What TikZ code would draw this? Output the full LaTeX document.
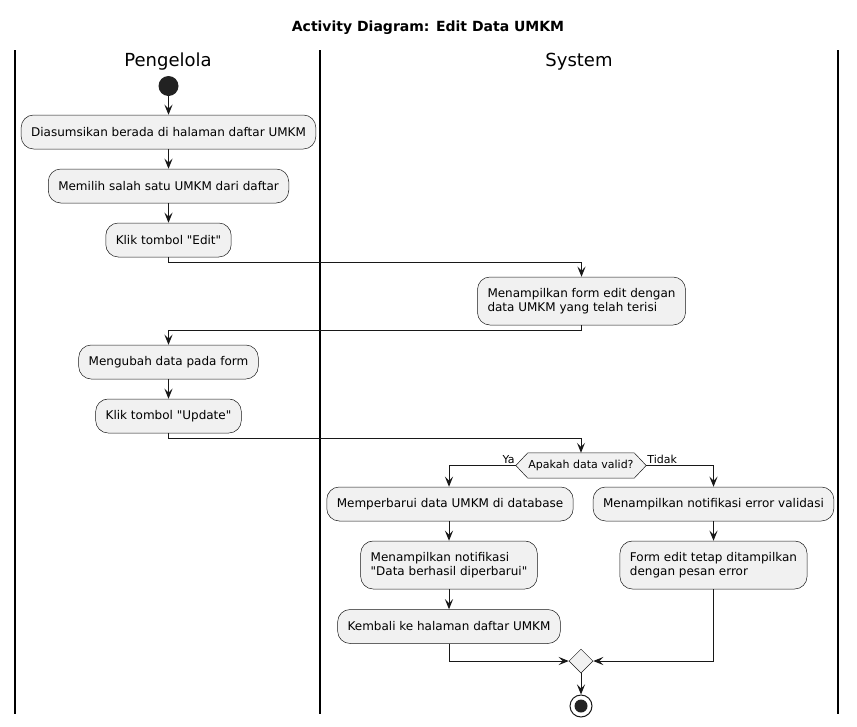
\documentclass[tikz,border=0pt]{standalone}
\usepackage{fontspec}
\setmainfont{DejaVu Sans}[Ligatures=TeXOff]
\usetikzlibrary{arrows.meta,shapes.geometric,calc}
\definecolor{cline}{HTML}{181818}
\definecolor{cfill}{HTML}{F1F1F1}
\definecolor{cstart}{HTML}{222222}
\begin{document}
\begin{tikzpicture}[x=1pt,y=-1pt,
  actbox/.style={rectangle, rounded corners=12.5pt, draw=cline, line width=0.5pt, fill=cfill,
    inner xsep=10pt, inner ysep=0pt, minimum height=34pt, align=left,
    font=\fontsize{12}{14}\selectfont},
  actbox2/.style={actbox, minimum height=48pt},
  arr/.style={draw=cline, line width=1pt, -{Stealth[length=10pt,width=8pt,inset=4pt]}},
  lane/.style={draw=black, line width=1.5pt},
  lanehead/.style={font=\fontsize{18}{20}\selectfont},
  lbl/.style={font=\fontsize{11}{13}\selectfont, inner sep=1pt}
]
\useasboundingbox (0,0) rectangle (857,726);
\fill[white] (0,0) rectangle (857,726);

% title
\node[font=\bfseries\fontsize{14}{16}\selectfont] (title) at (428,28) {Activity Diagram: Edit Data UMKM};

% swimlanes
\coordinate (l1t) at (15,50); \coordinate (l1b) at (15,714);
\coordinate (l2t) at (320,50); \coordinate (l2b) at (320,714);
\coordinate (l3t) at (838,50); \coordinate (l3b) at (838,714);
\draw[lane] (l1t) -- (l1b);
\draw[lane] (l2t) -- (l2b);
\draw[lane] (l3t) -- (l3b);
\node[lanehead] (h1) at (168,62) {Pengelola};
\node[lanehead] (h2) at (579,62) {System};

% nodes
\node[circle, fill=cstart, minimum size=20pt, inner sep=0pt] (s) at (168.5,86) {};
\node[actbox] (b1) at (168.5,132) {Diasumsikan berada di halaman daftar UMKM};
\node[actbox] (b2) at (168.5,186) {Memilih salah satu UMKM dari daftar};
\node[actbox] (b3) at (168.5,240) {Klik tombol "Edit"};
\node[actbox2] (b4) at (581.5,301) {Menampilkan form edit dengan\\data UMKM yang telah terisi};
\node[actbox] (b5) at (168.5,362) {Mengubah data pada form};
\node[actbox] (b6) at (168.5,416) {Klik tombol "Update"};

\node[minimum width=130pt, minimum height=25pt, inner sep=0pt] (d1) at (581,465.5) {};
\draw[draw=cline, line width=0.5pt, fill=cfill]
  (d1.west) -- ($(d1.north west)+(12,0)$) -- ($(d1.north east)+(-12,0)$) -- (d1.east)
  -- ($(d1.south east)+(-12,0)$) -- ($(d1.south west)+(12,0)$) -- cycle;
\node[font=\fontsize{11}{13}\selectfont] (d1t) at (d1) {Apakah data valid?};
\node[lbl, anchor=south east] (ya) at ($(d1.west)+(0,-0.5)$) {Ya};
\node[lbl, anchor=south west] (tidak) at ($(d1.east)+(0,-0.5)$) {Tidak};

\node[actbox] (b7) at (450,504) {Memperbarui data UMKM di database};
\node[actbox2] (b8) at (449,565) {Menampilkan notifikasi\\"Data berhasil diperbarui"};
\node[actbox] (b9) at (449,626.5) {Kembali ke halaman daftar UMKM};
\node[actbox] (b10) at (713.5,504) {Menampilkan notifikasi error validasi};
\node[actbox2] (b11) at (713.5,565) {Form edit tetap ditampilkan\\dengan pesan error};

\node[diamond, draw=cline, line width=0.5pt, fill=cfill, minimum width=24pt, minimum height=24pt, inner sep=0pt] (m) at (581,661) {};
\node[circle, draw=cline, line width=1pt, fill=white, minimum size=22pt, inner sep=0pt] (e) at (581,706) {};
\fill[cstart] (e.center) circle (6.5pt);

% connectors
\draw[arr] (s.south) -- (s |- b1.north);
\draw[arr] (b1.south) -- (b1.south |- b2.north);
\draw[arr] (b2.south) -- (b2.south |- b3.north);
\draw[arr] (b3.south) -- ++(0,5) -| (b4.north);
\draw[arr] (b4.south) -- ++(0,5) -| (b5.north);
\draw[arr] (b5.south) -- (b5.south |- b6.north);
\draw[arr] (b6.south) -- ++(0,5) -| (d1.north);
\draw[arr] (d1.west) -| ($(b7.north)+(-1,0)$);
\draw[arr] (d1.east) -| (b10.north);
\draw[arr] ($(b7.south)+(-1,0)$) -- ($(b7.south |- b8.north)+(-1,0)$);
\draw[arr] (b8.south) -- (b8.south |- b9.north);
\draw[arr] (b10.south) -- (b10.south |- b11.north);
\draw[arr] (b9.south) |- (m.west);
\draw[arr] (b11.south) |- (m.east);
\draw[arr] (m.south) -- (e.north);
\end{tikzpicture}
\end{document}
